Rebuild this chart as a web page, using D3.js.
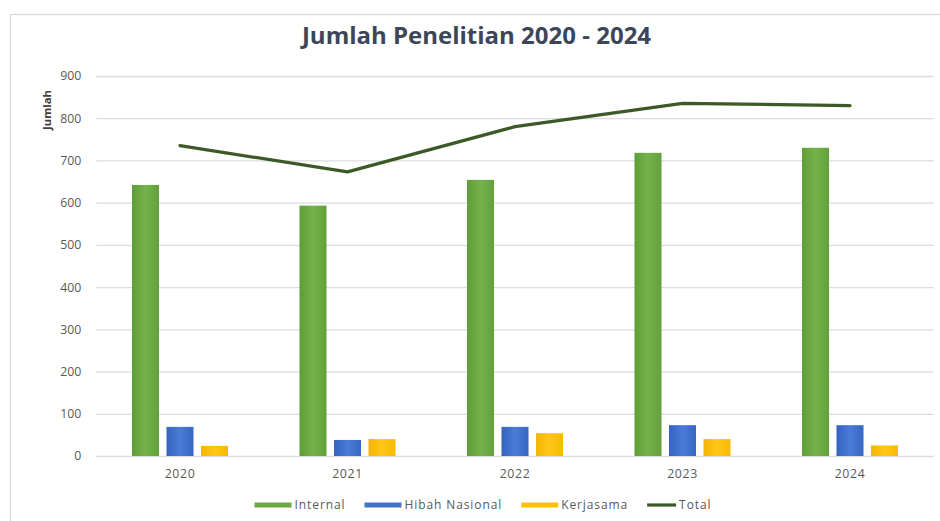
<!DOCTYPE html>
<html>
<head>
<meta charset="utf-8">
<script src="https://cdn.jsdelivr.net/npm/d3@7"></script>
<style>
  html, body { margin: 0; padding: 0; background: #ffffff; }
  svg { display: block; }
</style>
</head>
<body>
<svg id="chart" width="940" height="521"></svg>
<script>
// Research counts per year, by funding source
const years = ["2020", "2021", "2022", "2023", "2024"];
const internal = [642, 593, 654, 718, 730];
const hibahNasional = [69, 38, 69, 73, 73];
const kerjasama = [24, 40, 54, 40, 25];
const total = [735, 673, 780, 835, 830];
const seriesNames = ["Internal", "Hibah Nasional", "Kerjasama"];
const yTicks = [0, 100, 200, 300, 400, 500, 600, 700, 800, 900];

const FONT = "'Open Sans', Lato, 'Liberation Sans', sans-serif";
const W = 940, H = 521;
const plot = { left: 96.25, right: 933.75, top: 76, bottom: 456 };

const svg = d3.select("#chart");

// chart frame
svg.append("rect")
  .attr("x", 10.5).attr("y", 14.5)
  .attr("width", W).attr("height", H)
  .attr("fill", "#ffffff")
  .attr("stroke", "#d9d9d9").attr("stroke-width", 1.2);

// bar gradients
const defs = svg.append("defs");
const grads = [
  { id: "gInternal", c0: "#5f9d38", c1: "#74b24b", c2: "#62a03b" },
  { id: "gHibah", c0: "#3563c0", c1: "#4a7bd6", c2: "#3767c4" },
  { id: "gKerja", c0: "#f4b500", c1: "#ffc619", c2: "#f7ba00" }
];
grads.forEach(g => {
  const lg = defs.append("linearGradient").attr("id", g.id)
    .attr("x1", "0%").attr("x2", "100%").attr("y1", "0%").attr("y2", "0%");
  lg.append("stop").attr("offset", "0%").attr("stop-color", g.c0);
  lg.append("stop").attr("offset", "50%").attr("stop-color", g.c1);
  lg.append("stop").attr("offset", "100%").attr("stop-color", g.c2);
});
const fills = ["url(#gInternal)", "url(#gHibah)", "url(#gKerja)"];
const legendColors = ["#6aa943", "#4472c4", "#ffc000"];
const lineColor = "#3b5a27";

// scales
const x = d3.scaleBand().domain(years).range([plot.left, plot.right]).padding(0);
const groupW = 96;
const xs = d3.scaleBand().domain(seriesNames)
  .range([(x.bandwidth() - groupW) / 2, (x.bandwidth() + groupW) / 2])
  .paddingInner(0.217).paddingOuter(0);
const y = d3.scaleLinear().domain([0, 900]).range([plot.bottom, plot.top]);

// gridlines + y labels
const yAxis = d3.axisLeft(y).tickValues(yTicks).tickSize(-(plot.right - plot.left)).tickPadding(15);
const yg = svg.append("g").attr("transform", `translate(${plot.left},0)`).call(yAxis);
yg.select(".domain").remove();
yg.selectAll(".tick line").attr("stroke", "#dcdcdc").attr("stroke-width", 1.3);
yg.selectAll(".tick text")
  .attr("fill", "#595959").attr("font-family", FONT).attr("font-size", 12.3);

// x labels
const xAxis = d3.axisBottom(x).tickSize(0).tickPadding(13);
const xg = svg.append("g").attr("transform", `translate(0,${plot.bottom})`).call(xAxis);
xg.select(".domain").remove();
xg.selectAll(".tick text")
  .attr("fill", "#595959").attr("font-family", FONT).attr("font-size", 12.3)
  .attr("letter-spacing", 0.6);

// bars
const barData = [];
years.forEach((yr, i) => {
  [internal[i], hibahNasional[i], kerjasama[i]].forEach((v, k) => {
    barData.push({ year: yr, series: seriesNames[k], value: v, k });
  });
});
svg.append("g").selectAll("rect").data(barData).join("rect")
  .attr("x", d => x(d.year) + xs(d.series))
  .attr("width", xs.bandwidth())
  .attr("y", d => y(d.value))
  .attr("height", d => y(0) - y(d.value))
  .attr("fill", d => fills[d.k]);

// total line
const line = d3.line()
  .x((d, i) => x(years[i]) + x.bandwidth() / 2)
  .y(d => y(d));
svg.append("path").datum(total)
  .attr("d", line)
  .attr("fill", "none")
  .attr("stroke", lineColor)
  .attr("stroke-width", 3.2)
  .attr("stroke-linejoin", "round")
  .attr("stroke-linecap", "round");

// title, sized to a fixed width
const title = svg.append("text")
  .attr("x", 476.5).attr("y", 44)
  .attr("text-anchor", "middle")
  .attr("font-family", FONT).attr("font-weight", 700)
  .attr("font-size", 20).attr("fill", "#3d4659")
  .text("Jumlah Penelitian 2020 - 2024");
const tw = title.node().getComputedTextLength();
if (tw > 0) title.attr("font-size", Math.max(17, Math.min(24, 20 * 363 / tw)));

// y axis title
svg.append("text")
  .attr("transform", "translate(51,110) rotate(-90)")
  .attr("text-anchor", "middle")
  .attr("font-family", FONT).attr("font-weight", 700)
  .attr("font-size", 11.3).attr("fill", "#404040")
  .text("Jumlah");

// legend
const legendItems = [
  { name: "Internal", color: legendColors[0], type: "bar" },
  { name: "Hibah Nasional", color: legendColors[1], type: "bar" },
  { name: "Kerjasama", color: legendColors[2], type: "bar" },
  { name: "Total", color: lineColor, type: "line" }
];
const lg = svg.append("g");
const swW = 37, gapText = 3, gapItem = 19, legY = 505;
let cx = 0;
legendItems.forEach(it => {
  const g = lg.append("g");
  const sw = it.type === "bar" ? swW : 29;
  if (it.type === "bar") {
    g.append("rect").attr("x", cx).attr("y", legY - 2.5).attr("width", sw).attr("height", 5)
      .attr("fill", it.color);
  } else {
    g.append("line").attr("x1", cx).attr("x2", cx + sw).attr("y1", legY).attr("y2", legY)
      .attr("stroke", it.color).attr("stroke-width", 3.2);
  }
  const t = g.append("text").attr("x", cx + sw + gapText).attr("y", legY)
    .attr("dy", "0.35em")
    .attr("font-family", FONT).attr("font-size", 12).attr("fill", "#595959")
    .attr("letter-spacing", 0.9)
    .text(it.name);
  cx += sw + gapText + t.node().getComputedTextLength() + gapItem;
});
const legW = cx - gapItem;
lg.attr("transform", `translate(${483 - legW / 2},0)`);
</script>
</body>
</html>
